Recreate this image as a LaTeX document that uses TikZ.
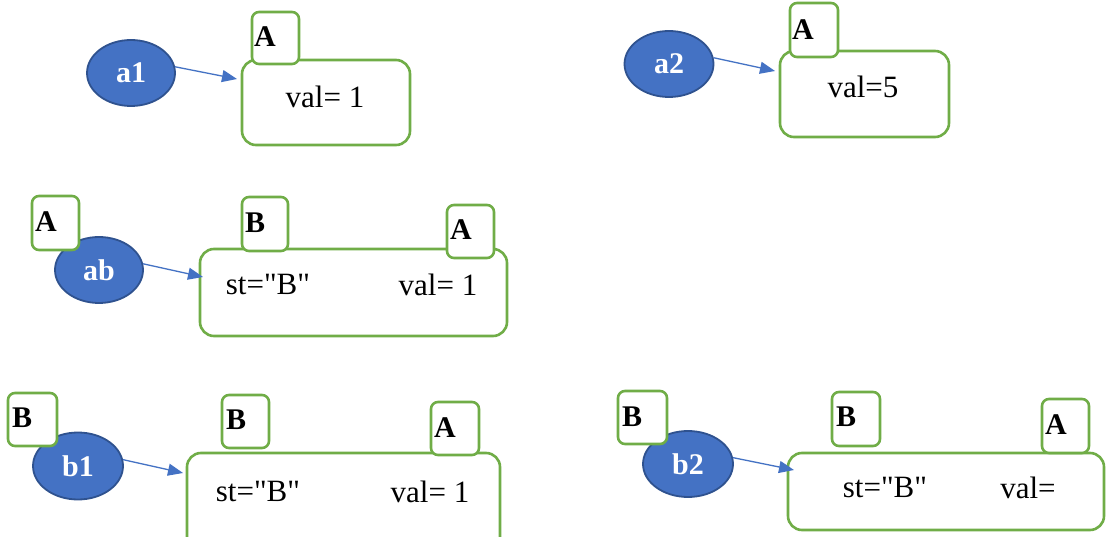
\documentclass[tikz,border=0pt]{standalone}
\usepackage{fontspec}
\setmainfont{Liberation Serif}[Ligatures=TeXOff]
\usetikzlibrary{arrows.meta,calc,shapes.geometric}
\definecolor{ellfill}{HTML}{4472C4}
\definecolor{elldraw}{HTML}{2F528F}
\definecolor{boxgreen}{HTML}{70AD47}
\definecolor{arrblue}{HTML}{4472C4}
\begin{document}
\begin{tikzpicture}[x=1pt,y=-1pt,
  obj/.style={ellipse,fill=ellfill,draw=elldraw,line width=1.8pt,inner sep=0pt,
    text=white,font=\fontsize{30}{32}\selectfont\bfseries},
  bigbox/.style={rectangle,draw=boxgreen,line width=2.6pt,rounded corners=14pt,fill=white,inner sep=0pt},
  tagbox/.style={rectangle,draw=boxgreen,line width=2.6pt,rounded corners=7pt,fill=white,inner sep=0pt},
  taglbl/.style={anchor=west,inner sep=0pt,font=\fontsize{30}{32}\selectfont\bfseries},
  fieldtxt/.style={inner sep=0pt,font=\fontsize{31}{33}\selectfont},
  ref/.style={draw=arrblue,line width=1.3pt,-{Triangle[length=15pt,width=12pt]}}
]
\useasboundingbox[fill=white] (0,0) rectangle (1106,537);

% ---------- a1 ----------
\node[bigbox,minimum width=168pt,minimum height=85pt] (box1) at (326,102.5) {};
\node[obj,minimum width=88pt,minimum height=66pt] (a1) at (131,73) {a1};
\node[tagbox,minimum width=47pt,minimum height=52pt] (sA1) at (275.5,38) {};
\node[taglbl] (lA1) at (254,37) {A};
\node[fieldtxt] (v1) at (325,97) {val= 1};
\coordinate (t1) at (237,79);
\draw[ref] (a1.8) -- (t1);

% ---------- a2 ----------
\node[bigbox,minimum width=169pt,minimum height=86pt] (box2) at (864.5,94) {};
\node[obj,minimum width=89pt,minimum height=66pt] (a2) at (669,64) {a2};
\node[tagbox,minimum width=48pt,minimum height=54pt] (sA2) at (814,30) {};
\node[taglbl] (lA2) at (792,30) {A};
\node[fieldtxt] (v2) at (863,87) {val=5};
\coordinate (t2) at (775,71);
\draw[ref] (a2.8) -- (t2);

% ---------- ab ----------
\node[bigbox,minimum width=307pt,minimum height=87pt] (box3) at (353.5,292.5) {};
\node[obj,minimum width=88pt,minimum height=66pt] (ab) at (99,270) {ab};
\node[tagbox,minimum width=47pt,minimum height=54pt] (sA3) at (55.5,223) {};
\node[taglbl] (lA3) at (35,222) {A};
\node[tagbox,minimum width=46pt,minimum height=54pt] (sB3) at (265,224) {};
\node[taglbl] (lB3) at (245,223) {B};
\node[tagbox,minimum width=47pt,minimum height=53pt] (sA3b) at (470.5,231.5) {};
\node[taglbl] (lA3b) at (450,230) {A};
\node[fieldtxt] (st3) at (268,285) {st="B"};
\node[fieldtxt] (v3) at (438,285) {val= 1};
\coordinate (t3) at (203,277);
\draw[ref] (ab.8) -- (t3);

% ---------- b1 ----------
\node[bigbox,minimum width=313pt,minimum height=107pt] (box4) at (343.5,506.5) {};
\node[obj,minimum width=90pt,minimum height=67pt] (b1) at (78,466) {b1};
\node[tagbox,minimum width=49pt,minimum height=53pt] (sB4) at (32.5,419.5) {};
\node[taglbl] (lB4) at (12,418) {B};
\node[tagbox,minimum width=47pt,minimum height=53pt] (sB4b) at (245.5,421.5) {};
\node[taglbl] (lB4b) at (226,420) {B};
\node[tagbox,minimum width=48pt,minimum height=53pt] (sA4) at (455,428.5) {};
\node[taglbl] (lA4) at (434,428) {A};
\node[fieldtxt] (st4) at (258,492) {st="B"};
\node[fieldtxt] (v4) at (430,492) {val= 1};
\coordinate (t4) at (183,473);
\draw[ref] (b1.8) -- (t4);

% ---------- b2 ----------
\node[bigbox,minimum width=316pt,minimum height=77pt] (box5) at (946,491.5) {};
\node[obj,minimum width=90pt,minimum height=66pt] (b2) at (688,464) {b2};
\node[tagbox,minimum width=49pt,minimum height=53pt] (sB5) at (642.5,417.5) {};
\node[taglbl] (lB5) at (622,417) {B};
\node[tagbox,minimum width=48pt,minimum height=54pt] (sB5b) at (856,419) {};
\node[taglbl] (lB5b) at (836,417) {B};
\node[tagbox,minimum width=47pt,minimum height=54pt] (sA5) at (1065.5,426) {};
\node[taglbl] (lA5) at (1045,425) {A};
\node[fieldtxt] (st5) at (885,488) {st="B"};
\node[fieldtxt] (v5) at (1028,488) {val=};
\coordinate (t5) at (794,470);
\draw[ref] (b2.8) -- (t5);
\end{tikzpicture}
\end{document}
